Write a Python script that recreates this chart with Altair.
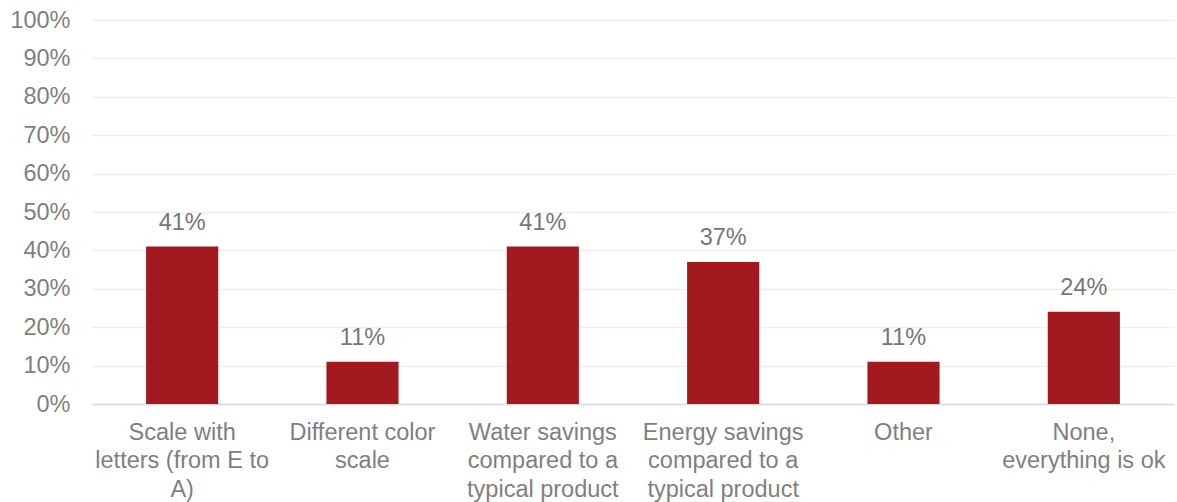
import altair as alt
import pandas as pd

categories = [
    "Scale with letters (from E to A)",
    "Different color scale",
    "Water savings compared to a typical product",
    "Energy savings compared to a typical product",
    "Other",
    "None, everything is ok",
]
label_lines = [
    ["Scale with", "letters (from E to", "A)"],
    ["Different color", "scale"],
    ["Water savings", "compared to a", "typical product"],
    ["Energy savings", "compared to a", "typical product"],
    ["Other"],
    ["None,", "everything is ok"],
]
shares = [0.41, 0.11, 0.41, 0.37, 0.11, 0.24]

df = pd.DataFrame({"category": categories, "share": shares})

label_expr = "{" + ", ".join(
    f"{c!r}: {lines!r}" for c, lines in zip(categories, label_lines)
) + "}[datum.value]"

GRAY = "#7f7f7f"
FONT = "Liberation Sans"
SIZE = 23.5

x = alt.X(
    "category:N",
    sort=categories,
    scale=alt.Scale(paddingInner=0.6, paddingOuter=0.3),
    axis=alt.Axis(
        title=None,
        labelAngle=0,
        labelExpr=label_expr,
        labelFontSize=SIZE,
        labelFont=FONT,
        labelColor=GRAY,
        labelLineHeight=28.5,
        labelPadding=16,
        labelLimit=300,
        ticks=False,
        domainColor="#d9d9d9",
        domainWidth=1.5,
        grid=False,
    ),
)
y = alt.Y(
    "share:Q",
    scale=alt.Scale(domain=[0, 1]),
    axis=alt.Axis(
        title=None,
        format=".0%",
        values=[i / 10 for i in range(11)],
        labelFontSize=SIZE,
        labelFont=FONT,
        labelColor=GRAY,
        labelPadding=22,
        ticks=False,
        domain=False,
        gridColor="#efefef",
        gridWidth=1.5,
    ),
)

bars = alt.Chart(df).mark_bar(color="#A31920").encode(x=x, y=y)
labels = alt.Chart(df).mark_text(
    baseline="bottom", dy=-12, fontSize=SIZE, font=FONT, color="#767676"
).encode(x=x, y=y, text=alt.Text("share:Q", format=".0%"))

chart = (
    (bars + labels)
    .properties(
        width=1082,
        height=384,
        autosize="none",
        padding={"left": 92, "top": 20, "right": 3, "bottom": 98},
    )
    .configure_view(stroke=None)
)

chart.save("out.html", embed_options={"renderer": "svg", "actions": False})
